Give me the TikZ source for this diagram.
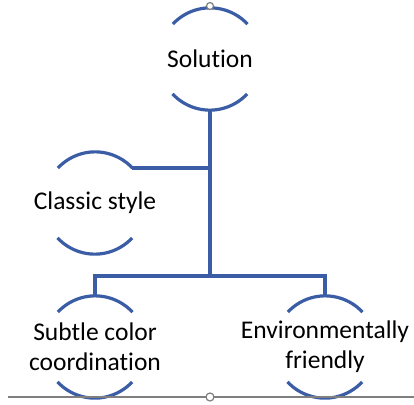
\documentclass[tikz,border=0pt]{standalone}
\usepackage{fontspec}
\setmainfont{Carlito}[Ligatures=NoCommon]
\definecolor{arcblue}{HTML}{3A5DA6}
\definecolor{handlegray}{HTML}{7F7F7F}
\begin{document}
\begin{tikzpicture}[x=1pt,y=1pt,
    ring/.style={circle,minimum size=102pt,inner sep=0pt},
    txt/.style={inner sep=0pt,align=center,font=\fontsize{25.5}{30}\selectfont},
    arcline/.style={arcblue,line width=3.2pt},
    handle/.style={handlegray,line width=1.2pt}]
    \useasboundingbox (0,0) rectangle (414,-404);
    % nodes
    \node[ring,label={[txt]center:Solution}] (sol) at (210,-59) {};
    \node[ring,label={[txt]center:Classic style}] (cls) at (95,-203) {};
    \node[ring,label={[txt]center:Subtle color\\coordination}] (sub) at (95,-347) {};
    \node[ring,label={[txt]center:Environmentally\\friendly}] (env) at (325,-347) {};
    \coordinate (hub) at (210,-276);
    % open rings
    \foreach \n in {sol,cls,sub,env} {
        \draw [arcline] (\n.43) arc[start angle=43,end angle=137,radius=51pt];
        \draw [arcline] (\n.223) arc[start angle=223,end angle=317,radius=51pt];
    }
    % connectors
    \draw [arcline] (sol.south) -- (hub);
    \draw [arcline] (cls.43) -- (cls.43 -| hub);
    \draw [arcline] (sub.north) |- (hub) -| (env.north);
    % handles
    \draw [handle] (8,-397) -- (414,-397);
    \draw [handle,fill=white] (210,-397) circle (4pt);
    \draw [handle,fill=white] (210,-6) circle (3.5pt);
\end{tikzpicture}
\end{document}
